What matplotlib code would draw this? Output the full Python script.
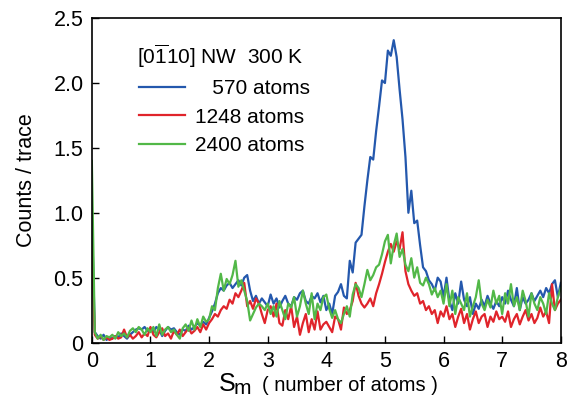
import matplotlib
matplotlib.use("Agg")
import matplotlib.pyplot as plt
import numpy as np

plt.rcParams['font.family'] = ['Liberation Sans', 'DejaVu Sans']
plt.rcParams['mathtext.fontset'] = 'custom'
plt.rcParams['mathtext.rm'] = 'Liberation Sans'
plt.rcParams['mathtext.default'] = 'regular'

# cluster size axis, 0.05 atom steps from 0 to 8
s_m = np.round(np.arange(0, 8.0001, 0.05), 2)

counts_570 = [
    1.00, 0.08, 0.05, 0.03, 0.06, 0.02, 0.04, 0.03, 0.05, 0.04, 0.07, 0.05, 0.03, 0.06, 0.08, 0.10, 0.11, 0.10, 0.12, 0.09,
    0.11, 0.08, 0.12, 0.10, 0.05, 0.09, 0.12, 0.10, 0.11, 0.08, 0.06, 0.10, 0.09, 0.13, 0.10, 0.12, 0.15, 0.13, 0.16, 0.14,
    0.19, 0.24, 0.30, 0.38, 0.42, 0.40, 0.44, 0.46, 0.42, 0.45, 0.48, 0.44, 0.50, 0.52, 0.40, 0.32, 0.36, 0.30, 0.34, 0.31,
    0.28, 0.37, 0.30, 0.34, 0.27, 0.32, 0.36, 0.30, 0.28, 0.35, 0.33, 0.38, 0.40, 0.32, 0.30, 0.36, 0.34, 0.38, 0.31, 0.36,
    0.25, 0.30, 0.22, 0.36, 0.39, 0.45, 0.36, 0.34, 0.63, 0.54, 0.77, 0.80, 0.83, 1.05, 1.25, 1.43, 1.41, 1.63, 1.82, 2.02,
    2.00, 2.25, 2.21, 2.33, 2.20, 1.95, 1.72, 1.43, 1.00, 1.17, 0.92, 0.94, 0.75, 0.58, 0.55, 0.48, 0.45, 0.40, 0.50, 0.47,
    0.35, 0.50, 0.32, 0.25, 0.38, 0.30, 0.47, 0.33, 0.28, 0.35, 0.22, 0.30, 0.26, 0.33, 0.28, 0.36, 0.30, 0.26, 0.32, 0.28,
    0.35, 0.30, 0.40, 0.33, 0.28, 0.42, 0.25, 0.35, 0.30, 0.33, 0.38, 0.32, 0.36, 0.40, 0.35, 0.42, 0.38, 0.45, 0.48, 0.35,
    0.46,
]

counts_1248 = [
    0.75, 0.06, 0.03, 0.05, 0.02, 0.04, 0.02, 0.03, 0.05, 0.03, 0.04, 0.10, 0.04, 0.06, 0.03, 0.05, 0.08, 0.04, 0.07, 0.05,
    0.12, 0.06, 0.04, 0.08, 0.11, 0.05, 0.07, 0.03, 0.09, 0.06, 0.10, 0.05, 0.08, 0.11, 0.07, 0.09, 0.12, 0.08, 0.14, 0.10,
    0.15, 0.18, 0.22, 0.20, 0.25, 0.28, 0.26, 0.33, 0.30, 0.38, 0.35, 0.40, 0.46, 0.28, 0.32, 0.26, 0.34, 0.30, 0.22, 0.15,
    0.25, 0.28, 0.20, 0.30, 0.15, 0.13, 0.25, 0.18, 0.28, 0.12, 0.20, 0.06, 0.15, 0.22, 0.08, 0.18, 0.10, 0.24, 0.10, 0.14,
    0.16, 0.12, 0.08, 0.20, 0.18, 0.10, 0.27, 0.22, 0.25, 0.32, 0.46, 0.36, 0.30, 0.27, 0.30, 0.34, 0.28, 0.38, 0.45, 0.53,
    0.62, 0.70, 0.76, 0.70, 0.78, 0.72, 0.85, 0.55, 0.45, 0.40, 0.36, 0.38, 0.30, 0.32, 0.25, 0.28, 0.22, 0.25, 0.15, 0.24,
    0.20, 0.28, 0.18, 0.22, 0.12, 0.20, 0.26, 0.15, 0.22, 0.10, 0.18, 0.24, 0.15, 0.20, 0.22, 0.12, 0.20, 0.16, 0.24, 0.18,
    0.20, 0.16, 0.24, 0.12, 0.18, 0.22, 0.14, 0.20, 0.25, 0.17, 0.22, 0.15, 0.19, 0.27, 0.20, 0.24, 0.15, 0.45, 0.25, 0.30,
    0.33,
]

counts_2400 = [
    1.40, 0.08, 0.03, 0.06, 0.02, 0.05, 0.04, 0.06, 0.03, 0.08, 0.05, 0.07, 0.04, 0.09, 0.11, 0.08, 0.12, 0.10, 0.06, 0.11,
    0.08, 0.12, 0.05, 0.14, 0.06, 0.10, 0.12, 0.08, 0.10, 0.06, 0.03, 0.11, 0.14, 0.09, 0.17, 0.10, 0.18, 0.12, 0.20, 0.16,
    0.18, 0.28, 0.25, 0.42, 0.53, 0.40, 0.49, 0.45, 0.52, 0.63, 0.43, 0.48, 0.40, 0.32, 0.17, 0.22, 0.27, 0.30, 0.28, 0.25,
    0.30, 0.22, 0.28, 0.20, 0.32, 0.25, 0.18, 0.30, 0.27, 0.35, 0.20, 0.28, 0.40, 0.30, 0.22, 0.38, 0.18, 0.30, 0.25, 0.35,
    0.37, 0.26, 0.19, 0.25, 0.18, 0.15, 0.22, 0.28, 0.20, 0.37, 0.45, 0.42, 0.35, 0.45, 0.56, 0.48, 0.52, 0.58, 0.60, 0.68,
    0.78, 0.83, 0.61, 0.75, 0.84, 0.66, 0.72, 0.60, 0.55, 0.65, 0.50, 0.58, 0.46, 0.44, 0.50, 0.45, 0.37, 0.42, 0.35, 0.40,
    0.30, 0.45, 0.28, 0.40, 0.22, 0.35, 0.30, 0.25, 0.38, 0.20, 0.28, 0.35, 0.48, 0.30, 0.25, 0.33, 0.27, 0.40, 0.30, 0.36,
    0.22, 0.38, 0.30, 0.45, 0.28, 0.35, 0.25, 0.40, 0.32, 0.20, 0.38, 0.30, 0.25, 0.35, 0.30, 0.22, 0.38, 0.30, 0.25, 0.35,
    0.42,
]

series_labels = ['   570 atoms', '1248 atoms', '2400 atoms']
series_colors = ['#2458ad', '#e0242b', '#52b848']
x_ticks = [0, 1, 2, 3, 4, 5, 6, 7, 8]
y_ticks = [0, 0.5, 1.0, 1.5, 2.0, 2.5]
y_tick_labels = ['0', '0.5', '1.0', '1.5', '2.0', '2.5']

fig = plt.figure(figsize=(5.74, 4.03), dpi=100)
ax = fig.add_axes([0.160, 0.150, 0.817, 0.805])

for counts, label, color in zip([counts_570, counts_1248, counts_2400], series_labels, series_colors):
    ax.plot(s_m, counts, color=color, lw=1.6, label=label)

ax.set_xlim(0, 8)
ax.set_ylim(0, 2.5)
ax.set_xticks(x_ticks)
ax.set_yticks(y_ticks)
ax.set_yticklabels(y_tick_labels)
ax.tick_params(direction='in', length=5, width=1, labelsize=15.5, pad=6)
for sp in ax.spines.values():
    sp.set_linewidth(1.2)

ax.set_ylabel('Counts / trace', fontsize=15.5, labelpad=12)

# x label: large S, subscript m, smaller description
ax.text(0.270, -0.150, 'S', transform=ax.transAxes, fontsize=18, va='baseline', ha='left')
ax.text(0.302, -0.158, 'm', transform=ax.transAxes, fontsize=15, va='baseline', ha='left')
ax.text(0.362, -0.150, '( number of atoms )', transform=ax.transAxes, fontsize=14.5, va='baseline', ha='left')

# sample description above the legend entries
ax.text(0.096, 0.858, '[0$\\overline{1}$10] NW  300 K', transform=ax.transAxes,
        fontsize=15, va='baseline', ha='left')

leg = ax.legend(loc='upper left', bbox_to_anchor=(0.100, 0.812), frameon=False,
                fontsize=15, handlelength=2.2, handletextpad=0.5,
                labelspacing=0.45, borderpad=0, borderaxespad=0)

fig.savefig('out.png', dpi=100)
